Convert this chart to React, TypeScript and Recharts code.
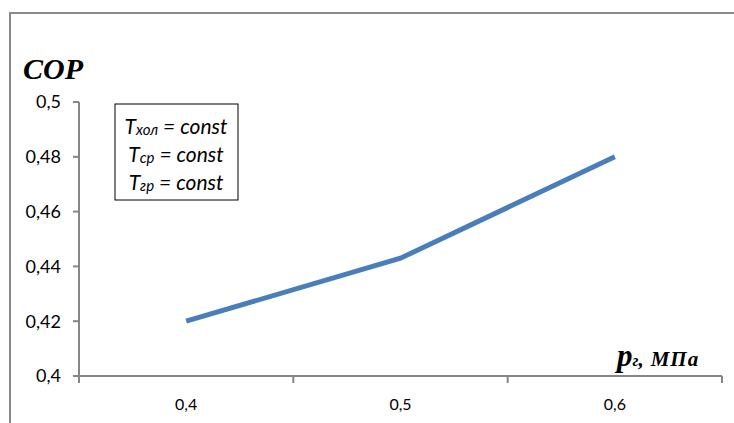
import { Customized, Line, LineChart, XAxis, YAxis } from "recharts";

// давление газа, МПа
const pressure = [0.4, 0.5, 0.6];
// коэффициент COP
const cop = [0.42, 0.443, 0.48];

const yTicks = [0.4, 0.42, 0.44, 0.46, 0.48, 0.5];
// ticks between categories carry the marks, centers carry the labels
const xBoundaries = [0.35, 0.45, 0.55, 0.65];
const xLabels = [0.4, 0.5, 0.6];
const xTicks = [0.35, 0.4, 0.45, 0.5, 0.55, 0.6, 0.65];

const conditions = [
  { sub: "хол", rest: " = const" },
  { sub: "ср", rest: " = const" },
  { sub: "гр", rest: " = const" },
];

const data = pressure.map((p, i) => ({ p, cop: cop[i] }));

const axisColor = "#868686";
const labelFont = "Lato, 'Open Sans', sans-serif";
const comma = (v: number) => String(v).replace(".", ",");

function XTick(props: any) {
  const { x, y, payload } = props;
  const v = payload.value;
  if (xBoundaries.some((b) => Math.abs(b - v) < 1e-9)) {
    return <line x1={x} x2={x} y1={y} y2={y + 7} stroke={axisColor} strokeWidth={2} />;
  }
  if (xLabels.some((b) => Math.abs(b - v) < 1e-9)) {
    return (
      <text x={x} y={y + 34} textAnchor="middle" fontSize={16} fontFamily={labelFont} fill="#000">
        {comma(v)}
      </text>
    );
  }
  return <g />;
}

function Decorations() {
  return (
    <g>
      <rect x={10} y={13} width={900} height={600} fill="none" stroke="#898989" strokeWidth={2} />
      <text x={23} y={79} fontFamily="'Liberation Serif', serif" fontWeight="bold" fontStyle="italic" fontSize={30}>
        COP
      </text>
      <rect x={115} y={104} width={123} height={96} fill="#fff" stroke="#000" strokeWidth={1} />
      {conditions.map((c, i) => (
        <text
          key={c.sub}
          x={176}
          y={134 + i * 28}
          textAnchor="middle"
          fontFamily={labelFont}
          fontStyle="italic"
          fontSize={21}
        >
          <tspan>T</tspan>
          <tspan fontSize={15} dy={1}>{c.sub}</tspan>
          <tspan dy={-1}>{c.rest}</tspan>
        </text>
      ))}
      <text x={617} y={366} fontFamily="'Liberation Serif', serif" fontWeight="bold" fontStyle="italic">
        <tspan fontSize={31}>p</tspan>
        <tspan fontSize={16}>г</tspan>
        <tspan fontSize={21}>,</tspan>
        <tspan fontSize={21} dx={7} letterSpacing={1}>МПа</tspan>
      </text>
    </g>
  );
}

export default function App() {
  return (
    <div style={{ position: "absolute", left: 0, top: 0, width: 734, height: 423, background: "#fff" }}>
      <LineChart width={734} height={423} data={data} margin={{ top: 102, right: 12, bottom: 0, left: 0 }}>
        <Customized component={Decorations} />
        <XAxis
          dataKey="p"
          type="number"
          domain={[0.35, 0.65]}
          ticks={xTicks}
          interval={0}
          height={47}
          tickLine={false}
          tickSize={0}
          tickMargin={0}
          tick={<XTick />}
          stroke={axisColor}
          strokeWidth={2}
        />
        <YAxis
          type="number"
          domain={[0.4, 0.5]}
          ticks={yTicks}
          interval={0}
          width={79}
          tickSize={6}
          tickMargin={12}
          tickFormatter={comma}
          tick={{ fontSize: 18, fontFamily: labelFont, fill: "#000" }}
          stroke={axisColor}
          strokeWidth={2}
          tickLine={{ stroke: axisColor, strokeWidth: 2 }}
        />
        <Line
          dataKey="cop"
          type="linear"
          stroke="#4a7ebb"
          strokeWidth={5}
          dot={false}
          isAnimationActive={false}
        />
      </LineChart>
    </div>
  );
}
